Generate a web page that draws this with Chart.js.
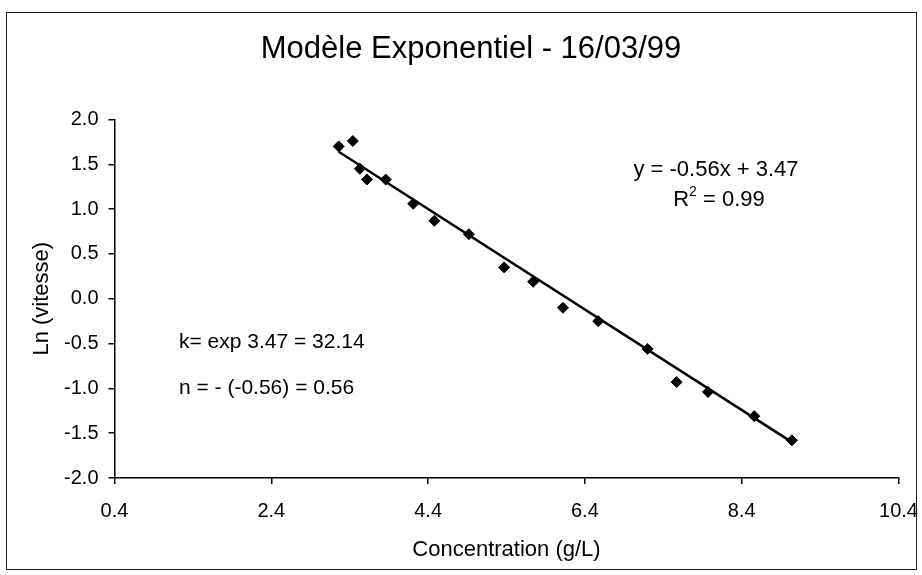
<!DOCTYPE html>
<html><head><meta charset="utf-8">
<script src="https://cdn.jsdelivr.net/npm/chart.js@4"></script>
<style>html,body{margin:0;padding:0;background:#fff}</style>
</head><body>
<canvas id="c" width="922" height="575"></canvas>
<script>
// ---- data ----
const concentration = [3.26, 3.44, 3.53, 3.62, 3.86, 4.21, 4.48, 4.92, 5.37, 5.74, 6.12, 6.57, 7.20, 7.57, 7.97, 8.56, 9.04];
const lnVitesse    = [1.70, 1.76, 1.45, 1.33, 1.33, 1.06, 0.87, 0.72, 0.35, 0.19, -0.10, -0.25, -0.56, -0.93, -1.04, -1.31, -1.58];
const trendX = [3.26, 9.04];
const trendY = [1.64, -1.60];
const xTicks = [0.4, 2.4, 4.4, 6.4, 8.4, 10.4];
const yTicks = [-2.0, -1.5, -1.0, -0.5, 0.0, 0.5, 1.0, 1.5, 2.0];
const titleText = 'Modèle Exponentiel - 16/03/99';
const xTitle = 'Concentration (g/L)';
const yTitle = 'Ln (vitesse)';
const equationText = 'y = -0.56x + 3.47';
const r2Value = '0.99';
const kText = 'k= exp 3.47 = 32.14';
const nText = 'n = - (-0.56) = 0.56';

const FONT = '"Liberation Sans", Arial, Helvetica, sans-serif';
Chart.defaults.font.family = FONT;
Chart.defaults.color = '#000';

const decor = {
  id: 'decor',
  afterDraw(chart) {
    const ctx = chart.ctx;
    ctx.save();
    // outer frame
    ctx.strokeStyle = '#222';
    ctx.lineWidth = 1;
    ctx.strokeRect(6.5, 12.5, 910, 557);
    ctx.fillStyle = '#000';
    // title
    ctx.font = '31px ' + FONT;
    ctx.textAlign = 'center';
    ctx.textBaseline = 'middle';
    ctx.fillText(titleText, 471, 49);
    // regression equation
    ctx.font = '22px ' + FONT;
    ctx.fillText(equationText, 716, 170);
    // R^2
    const rW = ctx.measureText('R').width;
    ctx.font = '14px ' + FONT;
    const sW = ctx.measureText('2').width;
    ctx.font = '22px ' + FONT;
    const rest = ' = ' + r2Value;
    const restW = ctx.measureText(rest).width;
    let x0 = 719 - (rW + sW + restW) / 2;
    ctx.textAlign = 'left';
    ctx.fillText('R', x0, 200);
    ctx.font = '14px ' + FONT;
    ctx.fillText('2', x0 + rW, 192);
    ctx.font = '22px ' + FONT;
    ctx.fillText(rest, x0 + rW + sW, 200);
    // k and n
    ctx.font = '21px ' + FONT;
    ctx.fillText(kText, 179, 342);
    ctx.fillText(nText, 179, 388);
    ctx.restore();
  }
};

new Chart(document.getElementById('c'), {
  type: 'scatter',
  data: {
    datasets: [
      {
        type: 'line',
        data: trendX.map((x, i) => ({x, y: trendY[i]})),
        borderColor: '#000',
        borderWidth: 2.5,
        pointRadius: 0,
        fill: false,
        order: 2
      },
      {
        data: concentration.map((x, i) => ({x, y: lnVitesse[i]})),
        pointStyle: 'rectRot',
        pointRadius: 5.5,
        backgroundColor: '#000',
        borderColor: '#000',
        borderWidth: 1,
        order: 1
      }
    ]
  },
  options: {
    responsive: false,
    animation: false,
    devicePixelRatio: 1,
    layout: { padding: { left: 0, right: 23.5, top: 119.5, bottom: 0 } },
    plugins: { legend: { display: false }, title: { display: false }, tooltip: { enabled: false } },
    scales: {
      x: {
        type: 'linear',
        min: 0.4, max: 10.4,
        afterBuildTicks: s => { s.ticks = xTicks.map(v => ({value: v})); },
        afterFit: s => { s.height = 97; s.paddingLeft = 0; s.paddingRight = 0; },
        ticks: { font: { size: 20 }, padding: 15, callback: v => Number(v).toFixed(1), maxRotation: 0 },
        grid: { display: true, drawOnChartArea: false, drawTicks: true, tickLength: 6, color: '#000', lineWidth: 1.5 },
        border: { display: true, color: '#000', width: 1.5 },
        title: { display: true, text: xTitle, font: { size: 22 }, padding: { top: 0, bottom: 12 } }
      },
      y: {
        type: 'linear',
        min: -2, max: 2,
        afterBuildTicks: s => { s.ticks = yTicks.map(v => ({value: v})); },
        afterFit: s => { s.width = 114.5; },
        ticks: { font: { size: 20 }, padding: 10, callback: v => Number(v).toFixed(1) },
        grid: { display: true, drawOnChartArea: false, drawTicks: true, tickLength: 6, color: '#000', lineWidth: 1.5 },
        border: { display: true, color: '#000', width: 1.5 },
        title: { display: true, text: yTitle, font: { size: 22 }, padding: { top: 29, bottom: 0 } }
      }
    }
  },
  plugins: [decor]
});
</script>
</body></html>
